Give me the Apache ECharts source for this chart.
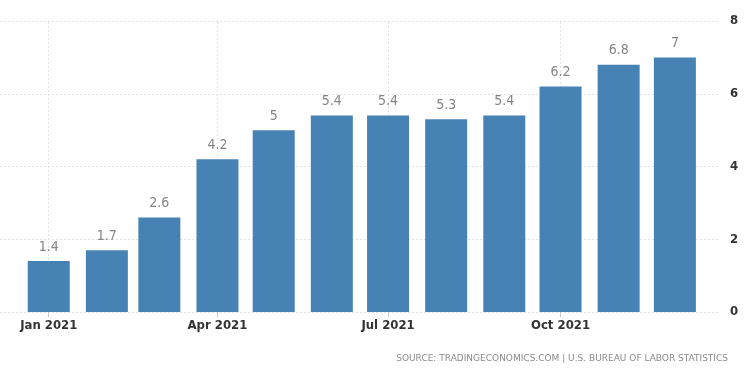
<!DOCTYPE html>
<html><head><meta charset="utf-8">
<script src="https://cdn.jsdelivr.net/npm/echarts@6/dist/echarts.min.js"></script>
<style>html,body{margin:0;padding:0;background:#fff}#c{width:750px;height:375px}</style>
</head><body><div id="c"></div>
<script>
const months = ['2021-01-01','2021-02-01','2021-03-01','2021-04-01','2021-05-01','2021-06-01','2021-07-01','2021-08-01','2021-09-01','2021-10-01','2021-11-01','2021-12-01'];
const values = [1.4,1.7,2.6,4.2,5,5.4,5.4,5.3,5.4,6.2,6.8,7];
const labelDates = ['2021-01-01','2021-04-01','2021-07-01','2021-10-01'];
const yTicks = [0,2,4,6,8];
const monthNames = ['Jan','Feb','Mar','Apr','May','Jun','Jul','Aug','Sep','Oct','Nov','Dec'];
const toTs = s => { const p = s.split('-'); return Date.UTC(+p[0], +p[1]-1, +p[2]); };
const chart = echarts.init(document.getElementById('c'));
chart.setOption({
  animation:false,
  grid:{left:0,right:32,top:21,bottom:63,containLabel:false},
  xAxis:{type:'value',min:toTs('2020-12-06'),max:toTs('2021-12-24'),
    axisLine:{show:false},
    axisTick:{show:true,customValues:labelDates.map(toTs),length:5,lineStyle:{color:'#ccc'}},
    splitLine:{show:false},
    axisLabel:{customValues:labelDates.map(toTs),color:'#333',fontSize:13,fontFamily:'DejaVu Sans Condensed',fontWeight:'bold',margin:7,
      formatter:v=>{const d=new Date(v);return monthNames[d.getUTCMonth()]+' '+d.getUTCFullYear();}}
  },
  yAxis:{type:'value',position:'right',min:0,max:8,interval:2,
    axisLine:{show:false},axisTick:{show:false},
    splitLine:{lineStyle:{color:'#e2e2e2',type:[2,2]}},
    axisLabel:{color:'#333',fontSize:13,fontFamily:'DejaVu Sans Condensed',fontWeight:'bold',margin:12,
      formatter:v=>yTicks.includes(v)?String(v):''}
  },
  series:[{type:'bar',barWidth:42,z:3,
    data:months.map((m,i)=>[toTs(m),values[i]]),
    itemStyle:{color:'#4682b4'},
    label:{show:true,position:'top',distance:7,color:'#858585',fontSize:14,fontFamily:'DejaVu Sans Condensed'},
    markLine:{silent:true,symbol:'none',label:{show:false},z:1,
      lineStyle:{color:'#e2e2e2',type:[2,2],width:1},
      data:labelDates.map(d=>({xAxis:toTs(d)}))}
  }],
  graphic:[{type:'text',right:22,top:354,style:{text:'SOURCE: TRADINGECONOMICS.COM | U.S. BUREAU OF LABOR STATISTICS',fill:'#8a8a8a',fontSize:9,fontFamily:'DejaVu Sans'}}]
});
</script></body></html>
